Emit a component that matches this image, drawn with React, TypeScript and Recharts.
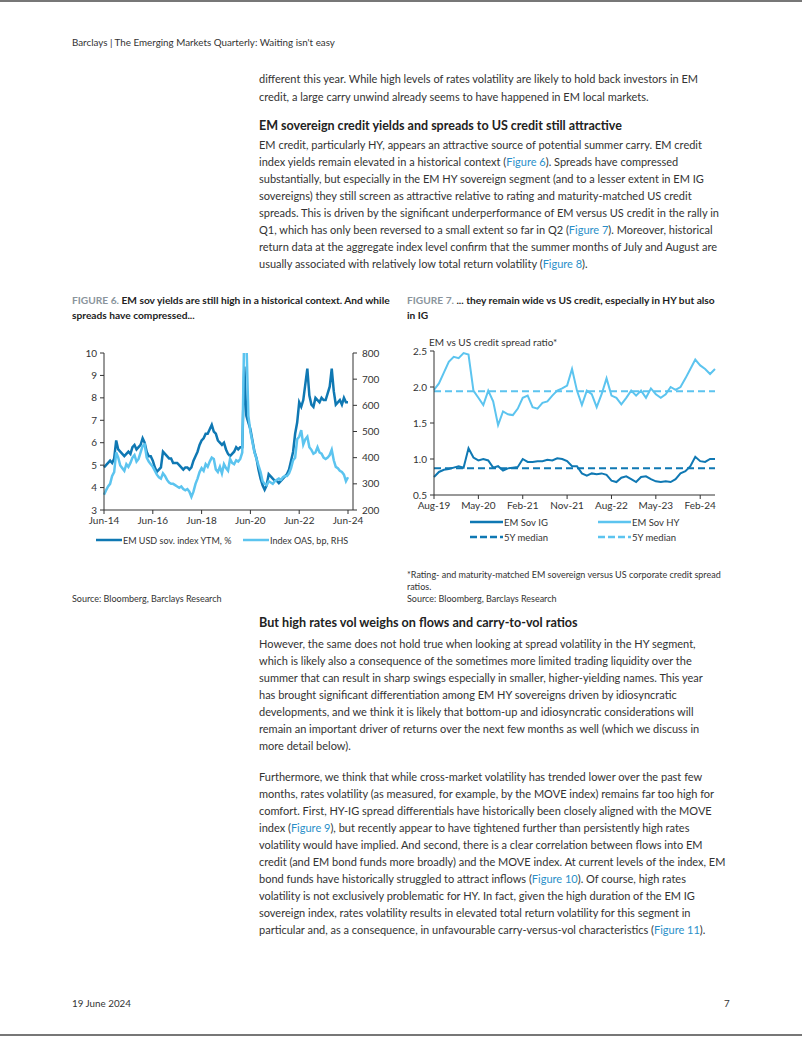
import { LineChart, Line, XAxis, YAxis, ReferenceLine } from 'recharts'

const FONT = 'Lato, sans-serif'
const DARK = '#0f78b3'
const LIGHT = '#5cc4ef'
const TEXT = '#333'
const LINK = '#2a8fc9'

const MON = ['Jan', 'Feb', 'Mar', 'Apr', 'May', 'Jun', 'Jul', 'Aug', 'Sep', 'Oct', 'Nov', 'Dec']
const monthRange = (year: number, month: number, n: number) =>
  Array.from({ length: n }, (_, i) => {
    const k = month + i
    return `${MON[k % 12]}-${String((year + Math.floor(k / 12)) % 100).padStart(2, '0')}`
  })

// Figure 6: monthly, Jun-14 .. Jun-24
const fig6Months = monthRange(2014, 5, 121)
const fig6Ticks = ['Jun-14', 'Jun-16', 'Jun-18', 'Jun-20', 'Jun-22', 'Jun-24']
const fig6LeftTicks = [3, 4, 5, 6, 7, 8, 9, 10]
const fig6RightTicks = [200, 300, 400, 500, 600, 700, 800]
const ytm = [
  4.9, 5.0, 5.1, 5.2, 5.1, 5.3, 6.1,
  5.7, 5.6, 5.5, 5.4, 5.5, 5.6, 5.5, 5.8, 5.9, 5.7, 5.8, 5.9,
  6.2, 6.0, 5.6, 5.4, 5.4, 5.2, 4.9, 4.7, 4.8, 4.9, 5.6, 5.5,
  5.4, 5.3, 5.3, 5.1, 5.1, 5.1, 5.0, 4.9, 4.8, 4.9, 4.9, 4.8,
  4.9, 5.2, 5.4, 5.6, 5.9, 6.1, 6.2, 6.4, 6.4, 6.6, 6.8, 6.5,
  6.4, 6.1, 6.0, 5.9, 6.0, 5.7, 5.5, 5.4, 5.5, 5.6, 5.8, 5.7,
  5.8, 5.8, 9.4, 7.2, 6.9, 6.6, 6.1, 5.6, 5.3, 4.8, 4.4, 4.1,
  3.9, 4.1, 4.6, 4.5, 4.4, 4.3, 4.3, 4.2, 4.3, 4.4, 4.5, 4.6,
  4.8, 5.2, 5.6, 6.4, 6.9, 7.8, 7.6, 7.9, 8.6, 9.3, 8.1, 7.7,
  7.6, 8.0, 7.9, 7.8, 8.0, 7.9, 7.9, 8.2, 8.5, 9.3, 8.3, 7.7,
  7.8, 7.9, 7.7, 8.0, 7.8, 7.8,
]
const oas = [
  258, 275, 290, 300, 330, 345, 420,
  400, 370, 360, 350, 375, 365, 380, 400, 410, 385, 395, 420,
  445, 450, 400, 385, 375, 365, 350, 335, 325, 320, 340, 330,
  315, 305, 300, 300, 295, 290, 285, 290, 280, 275, 280, 270,
  250, 270, 300, 320, 345, 360, 350, 375, 365, 385, 400, 395,
  355, 345, 365, 340, 375, 360, 350, 395, 380, 375, 390, 385,
  395, 420, 900, 860, 560, 500, 460, 420, 396, 370, 345, 310,
  300, 295, 310, 305, 300, 310, 315, 320, 315, 325, 330, 330,
  340, 360, 390, 400, 470, 480, 505, 450, 470, 480, 440, 430,
  415, 420, 440, 420, 415, 400, 395, 400, 410, 430, 390, 365,
  360, 350, 345, 335, 310, 325,
]

// Figure 7: monthly, Aug-19 .. May-24
const fig7Months = monthRange(2019, 7, 58)
const fig7Ticks = ['Aug-19', 'May-20', 'Feb-21', 'Nov-21', 'Aug-22', 'May-23', 'Feb-24']
const fig7YTicks = [0.5, 1.0, 1.5, 2.0, 2.5]
const sovIG = [
  0.75, 0.82, 0.85, 0.86, 0.88,
  0.9, 0.88, 1.15, 1.02, 0.98, 1.0, 0.98, 0.88, 0.9, 0.84, 0.87, 0.88,
  0.89, 1.0, 0.96, 0.96, 0.97, 0.97, 0.99, 0.98, 1.01, 1.0, 0.97, 0.9,
  0.9, 0.8, 0.77, 0.8, 0.79, 0.8, 0.78, 0.7, 0.68, 0.74, 0.76, 0.72,
  0.68, 0.75, 0.76, 0.72, 0.69, 0.68, 0.69, 0.68, 0.72, 0.8, 0.83, 0.9,
  1.03, 0.97, 0.96, 1.0, 1.0,
]
const sovHY = [
  1.96, 2.05, 2.2, 2.35, 2.42,
  2.4, 2.47, 2.45, 1.95, 1.85, 1.75, 1.95, 1.8, 1.47, 1.66, 1.62, 1.61,
  1.7, 1.85, 1.88, 1.72, 1.7, 1.78, 1.8, 1.88, 1.95, 1.98, 2.02, 2.25,
  1.95, 1.75, 1.95, 1.9, 1.72, 1.9, 2.12, 1.88, 1.85, 1.76, 1.85, 1.95,
  1.88, 1.95, 1.85, 1.98, 1.9, 1.85, 1.9, 2.0, 1.96, 2.0, 2.12, 2.25,
  2.38, 2.3, 2.25, 2.18, 2.25,
]
const igMedian = 0.87
const hyMedian = 1.94

// page text
const para1 = [
  'different this year. While high levels of rates volatility are likely to hold back investors in EM',
  'credit, a large carry unwind already seems to have happened in EM local markets.',
]
const para2 = [
  'EM credit, particularly HY, appears an attractive source of potential summer carry. EM credit',
  'index yields remain elevated in a historical context ({Figure 6}). Spreads have compressed',
  'substantially, but especially in the EM HY sovereign segment (and to a lesser extent in EM IG',
  'sovereigns) they still screen as attractive relative to rating and maturity-matched US credit',
  'spreads. This is driven by the significant underperformance of EM versus US credit in the rally in',
  'Q1, which has only been reversed to a small extent so far in Q2 ({Figure 7}). Moreover, historical',
  'return data at the aggregate index level confirm that the summer months of July and August are',
  'usually associated with relatively low total return volatility ({Figure 8}).',
]
const para3 = [
  'However, the same does not hold true when looking at spread volatility in the HY segment,',
  'which is likely also a consequence of the sometimes more limited trading liquidity over the',
  'summer that can result in sharp swings especially in smaller, higher-yielding names. This year',
  'has brought significant differentiation among EM HY sovereigns driven by idiosyncratic',
  'developments, and we think it is likely that bottom-up and idiosyncratic considerations will',
  'remain an important driver of returns over the next few months as well (which we discuss in',
  'more detail below).',
]
const para4 = [
  'Furthermore, we think that while cross-market volatility has trended lower over the past few',
  'months, rates volatility (as measured, for example, by the MOVE index) remains far too high for',
  'comfort. First, HY-IG spread differentials have historically been closely aligned with the MOVE',
  'index ({Figure 9}), but recently appear to have tightened further than persistently high rates',
  'volatility would have implied. And second, there is a clear correlation between flows into EM',
  'credit (and EM bond funds more broadly) and the MOVE index. At current levels of the index, EM',
  'bond funds have historically struggled to attract inflows ({Figure 10}). Of course, high rates',
  'volatility is not exclusively problematic for HY. In fact, given the high duration of the EM IG',
  'sovereign index, rates volatility results in elevated total return volatility for this segment in',
  'particular and, as a consequence, in unfavourable carry-versus-vol characteristics ({Figure 11}).',
]

function withLinks(s: string) {
  return s.split(/(\{[^}]+\})/).map((part, i) =>
    part.startsWith('{') ? (
      <span key={i} style={{ color: LINK }}>{part.slice(1, -1)}</span>
    ) : (
      <span key={i}>{part}</span>
    )
  )
}

function Lines({
  x, y, step, lines, size = 11, weight = 400, color = TEXT,
}: {
  x: number; y: number; step: number; lines: string[]; size?: number; weight?: number; color?: string
}) {
  return (
    <>
      {lines.map((l, i) => (
        <div
          key={i}
          style={{
            position: 'absolute', left: x, top: y + i * step - 8, height: 16, lineHeight: '16px',
            fontSize: size, fontWeight: weight, color, whiteSpace: 'nowrap',
          }}
        >
          {withLinks(l)}
        </div>
      ))}
    </>
  )
}

function LegendItem({ x, y, color, label, dashed = false, len = 33, size = 9.5 }: {
  x: number; y: number; color: string; label: string; dashed?: boolean; len?: number; size?: number
}) {
  return (
    <div style={{ position: 'absolute', left: x, top: y - 7, height: 14, display: 'flex', alignItems: 'center', fontSize: size, color: TEXT, whiteSpace: 'nowrap' }}>
      <svg width={len} height={6} style={{ marginRight: 1 }}>
        <line x1={0} y1={3} x2={len} y2={3} stroke={color} strokeWidth={2.5} strokeDasharray={dashed ? '7 3' : undefined} />
      </svg>
      {label}
    </div>
  )
}

const tickStyle = { fontSize: 10, fill: TEXT, fontFamily: FONT }

function Fig6() {
  const data = fig6Months.map((m, i) => ({ m, ytm: ytm[i], oas: oas[i] }))
  return (
    <div style={{ position: 'absolute', left: 60, top: 340 }}>
      <LineChart width={330} height={190} data={data} margin={{ top: 13, right: 0, bottom: 0, left: 0 }}>
        <XAxis dataKey="m" ticks={fig6Ticks} interval={0} tick={tickStyle} tickSize={4} tickMargin={3}
          padding={{ left: 0, right: 5 }} axisLine={{ stroke: TEXT }} tickLine={{ stroke: TEXT }} height={20} />
        <YAxis yAxisId="l" domain={[3, 10]} ticks={fig6LeftTicks} interval={0} width={44} tick={tickStyle}
          tickSize={4} tickMargin={3} axisLine={{ stroke: TEXT }} tickLine={{ stroke: TEXT }} />
        <YAxis yAxisId="r" orientation="right" domain={[200, 800]} ticks={fig6RightTicks} interval={0}
          allowDataOverflow width={37} tick={tickStyle} tickSize={4} tickMargin={5}
          axisLine={{ stroke: TEXT }} tickLine={{ stroke: TEXT }} />
        <Line yAxisId="l" dataKey="ytm" stroke={DARK} strokeWidth={2.5} dot={false} isAnimationActive={false} />
        <Line yAxisId="r" dataKey="oas" stroke={LIGHT} strokeWidth={2.5} dot={false} isAnimationActive={false} />
      </LineChart>
    </div>
  )
}

function Fig7() {
  const data = fig7Months.map((m, i) => ({ m, ig: sovIG[i], hy: sovHY[i] }))
  return (
    <div style={{ position: 'absolute', left: 400, top: 340 }}>
      <LineChart width={320} height={175} data={data} margin={{ top: 11, right: 5, bottom: 0, left: 0 }}>
        <XAxis dataKey="m" ticks={fig7Ticks} interval={0} tick={tickStyle} tickSize={4} tickMargin={3}
          axisLine={{ stroke: TEXT }} tickLine={{ stroke: TEXT }} height={20} />
        <YAxis domain={[0.5, 2.5]} ticks={fig7YTicks} interval={0} width={34} tick={tickStyle}
          tickFormatter={(v: number) => v.toFixed(1)} tickSize={4} tickMargin={3}
          axisLine={{ stroke: TEXT }} tickLine={{ stroke: TEXT }} />
        <ReferenceLine y={hyMedian} stroke={LIGHT} strokeWidth={2} strokeDasharray="7 4" />
        <ReferenceLine y={igMedian} stroke={DARK} strokeWidth={2} strokeDasharray="7 4" />
        <Line dataKey="hy" stroke={LIGHT} strokeWidth={2} dot={false} isAnimationActive={false} />
        <Line dataKey="ig" stroke={DARK} strokeWidth={2} dot={false} isAnimationActive={false} />
      </LineChart>
    </div>
  )
}

export default function App() {
  return (
    <div style={{ position: 'absolute', left: 0, top: 0, width: 802, height: 1037, background: '#fff', fontFamily: FONT, color: TEXT, overflow: 'hidden' }}>
      <div style={{ position: 'absolute', left: 0, top: 0, width: 802, height: 2, background: '#777' }} />
      <div style={{ position: 'absolute', left: 0, top: 1034, width: 802, height: 2, background: '#777' }} />

      <Lines x={72} y={42} step={0} lines={['Barclays | The Emerging Markets Quarterly: Waiting isn\'t easy']} size={9.8} />

      <Lines x={259} y={79} step={18} lines={para1} />
      <Lines x={259} y={126} step={0} lines={['EM sovereign credit yields and spreads to US credit still attractive']} size={12.5} weight={700} color="#222" />
      <Lines x={259} y={145} step={17} lines={para2} />

      {/* figure titles */}
      <div style={{ position: 'absolute', left: 72, top: 293, fontSize: 10.2, fontWeight: 700, lineHeight: '15px', color: '#222', whiteSpace: 'nowrap' }}>
        <span style={{ color: '#8a949c' }}>FIGURE 6.</span> EM sov yields are still high in a historical context. And while<br />spreads have compressed...
      </div>
      <div style={{ position: 'absolute', left: 407, top: 293, fontSize: 10.2, fontWeight: 700, lineHeight: '15px', color: '#222', whiteSpace: 'nowrap' }}>
        <span style={{ color: '#8a949c' }}>FIGURE 7.</span> ... they remain wide vs US credit, especially in HY but also<br />in IG
      </div>

      <Fig6 />
      <LegendItem x={96} y={540} color={DARK} label="EM USD sov. index YTM, %" len={26} size={9} />
      <LegendItem x={243} y={540} color={LIGHT} label="Index OAS, bp, RHS" len={26} size={9} />

      <div style={{ position: 'absolute', left: 429, top: 336, fontSize: 10, color: TEXT, whiteSpace: 'nowrap' }}>EM vs US credit spread ratio*</div>
      <Fig7 />
      <LegendItem x={470} y={522} color={DARK} label="EM Sov IG" />
      <LegendItem x={598} y={522} color={LIGHT} label="EM Sov HY" />
      <LegendItem x={470} y={537} color={DARK} label="5Y median" dashed />
      <LegendItem x={598} y={537} color={LIGHT} label="5Y median" dashed />

      <Lines x={72} y={599} step={0} lines={['Source: Bloomberg, Barclays Research']} size={9} />
      <Lines x={407} y={575} step={12} size={9} lines={[
        '*Rating- and maturity-matched EM sovereign versus US corporate credit spread',
        'ratios.',
        'Source: Bloomberg, Barclays Research',
      ]} />

      <Lines x={259} y={623} step={0} lines={['But high rates vol weighs on flows and carry-to-vol ratios']} size={12.6} weight={700} color="#222" />
      <Lines x={259} y={644} step={17} lines={para3} />
      <Lines x={259} y={777} step={17} lines={para4} />

      <Lines x={72} y={1003} step={0} lines={['19 June 2024']} size={9.8} />
      <Lines x={724} y={1003} step={0} lines={['7']} size={9.8} />
    </div>
  )
}
